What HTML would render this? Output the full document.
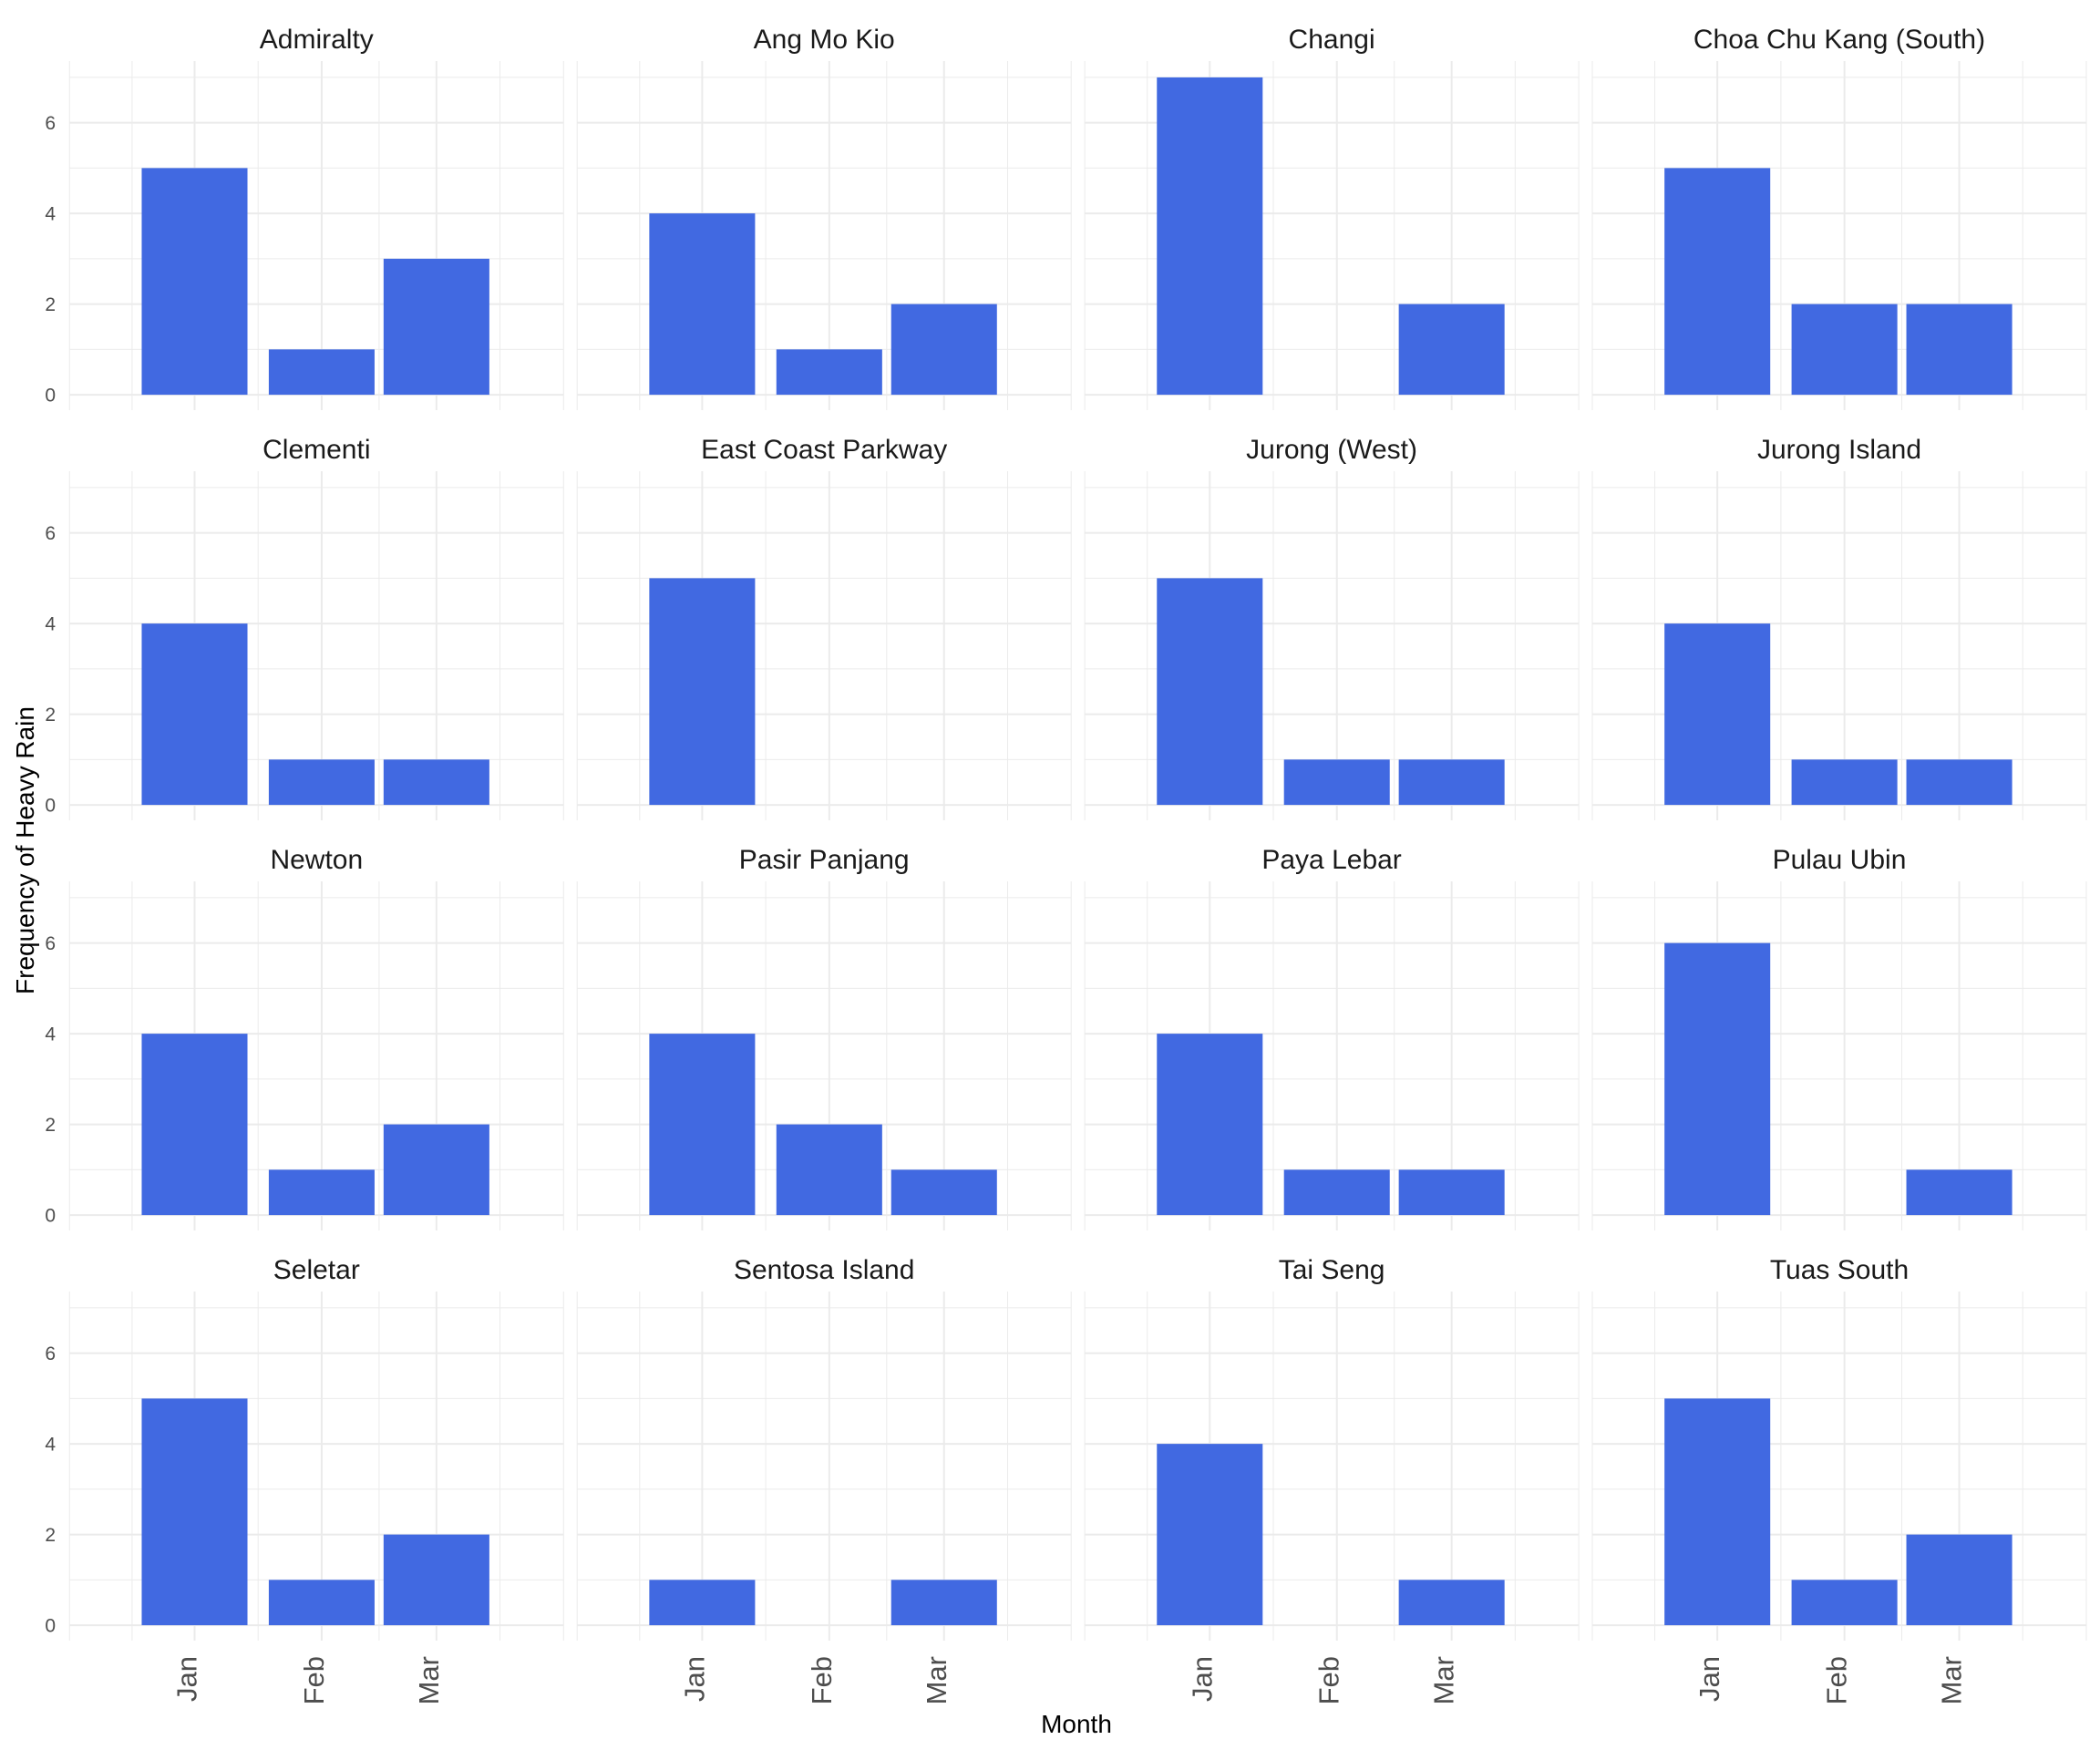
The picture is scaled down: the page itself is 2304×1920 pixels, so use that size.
<!DOCTYPE html>
<html><head><meta charset="utf-8"><style>
html,body{margin:0;padding:0;background:#fff;}
svg{display:block;font-family:"Liberation Sans",Arial,sans-serif;}
</style></head><body>
<svg id="chart" width="2304" height="1920" viewBox="0 0 2304 1920" xmlns="http://www.w3.org/2000/svg">
<text x="1181" y="1901" font-size="28" text-anchor="middle" fill="#000">Month</text>
<text transform="translate(37,933) rotate(-90)" font-size="28" text-anchor="middle" fill="#000">Frequency of Heavy Rain</text>
</svg>
<script>
const stations = ["Admiralty","Ang Mo Kio","Changi","Choa Chu Kang (South)","Clementi","East Coast Parkway","Jurong (West)","Jurong Island","Newton","Pasir Panjang","Paya Lebar","Pulau Ubin","Seletar","Sentosa Island","Tai Seng","Tuas South"];
const months = ["Jan","Feb","Mar"];
const monthDays = [0,31,59];
const janValues = [5,4,7,5,4,5,5,4,4,4,4,6,5,1,4,5];
const febValues = [1,1,0,2,1,0,1,1,1,2,1,0,1,0,0,1];
const marValues = [3,2,2,2,1,0,1,1,2,1,1,1,2,1,1,2];
const yTicks = [0,2,4,6];
const yMinor = [1,3,5,7];
const xMinorDays = [-30.5,-15.25,15.5,45,74.5,90];

const NS="http://www.w3.org/2000/svg";
const svg=document.getElementById('chart');
const colX0=76.3, colPitch=556.9, panelW=542;
const rowPitch=450, panelTop0=67, panelH=383;
const dMin=-30.5, dMax=90, yMin=-0.34, yMax=7.36;
const barDays=25.8;
function mk(tag,attrs){const e=document.createElementNS(NS,tag);for(const k in attrs)e.setAttribute(k,attrs[k]);return e;}
function xs(col,d){return colX0+col*colPitch+(d-dMin)/(dMax-dMin)*panelW;}
function ys(row,v){const top=panelTop0+row*rowPitch;return top+(yMax-v)/(yMax-yMin)*panelH;}
const series=[janValues,febValues,marValues];

stations.forEach((name,i)=>{
  const col=i%4,row=Math.floor(i/4);
  const g=mk('g',{});
  
  
  svg.appendChild(g);
  const left=xs(col,dMin),right=xs(col,dMax),top=ys(row,yMax),bot=ys(row,yMin);
  yMinor.forEach(v=>{const l=mk('line',{x1:left,x2:right,y1:ys(row,v),y2:ys(row,v),stroke:'#ebebeb','stroke-width':1});
    g.appendChild(l);});
  xMinorDays.forEach(d=>{const l=mk('line',{x1:xs(col,d),x2:xs(col,d),y1:top,y2:bot,stroke:'#ebebeb','stroke-width':1});
    g.appendChild(l);});
  yTicks.forEach(v=>{const l=mk('line',{x1:left,x2:right,y1:ys(row,v),y2:ys(row,v),stroke:'#ebebeb','stroke-width':2});
    g.appendChild(l);});
  monthDays.forEach(d=>{const l=mk('line',{x1:xs(col,d),x2:xs(col,d),y1:top,y2:bot,stroke:'#ebebeb','stroke-width':2});
    g.appendChild(l);});
  const t=mk('text',{x:(left+right)/2,y:top-14,'font-size':30,'text-anchor':'middle',fill:'#1a1a1a'});
  t.textContent=name;
  
  
  g.appendChild(t);
  series.forEach((vals,m)=>{
    const v=vals[i]; if(!v) return;
    const x1=xs(col,monthDays[m]-barDays/2),x2=xs(col,monthDays[m]+barDays/2);
    const r=mk('rect',{x:x1,y:ys(row,v),width:x2-x1,height:ys(row,0)-ys(row,v),fill:'#4169E1'});
    
    
    g.appendChild(r);
  });
  if(col===0){
    yTicks.forEach(v=>{const tt=mk('text',{x:61,y:ys(row,v)+7.5,'font-size':21,'text-anchor':'end',fill:'#4d4d4d'});
      tt.textContent=String(v);
      
      
      svg.appendChild(tt);});
  }
  if(row===3){
    monthDays.forEach((d,m)=>{const x=xs(col,d)+2;const tt=mk('text',{transform:`translate(${x},1817) rotate(-90)`,'font-size':31,'text-anchor':'end',fill:'#4d4d4d'});
      tt.textContent=months[m];
      
      
      svg.appendChild(tt);});
  }
});
</script>
</body></html>
